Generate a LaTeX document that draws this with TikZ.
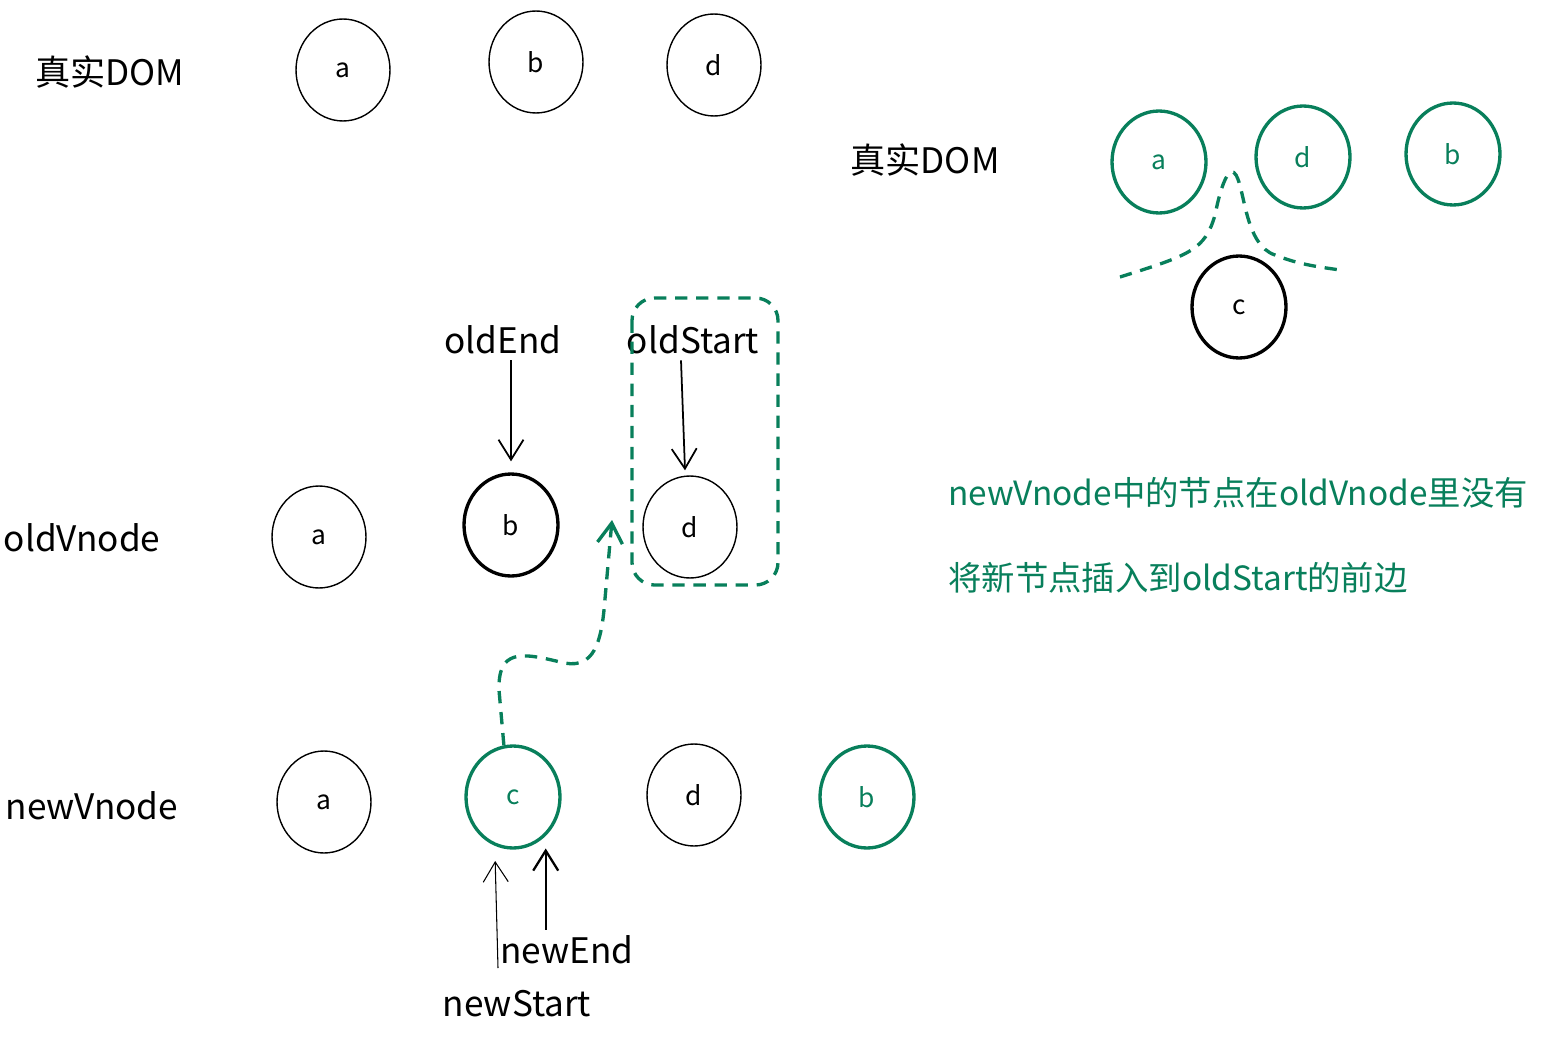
\documentclass[tikz,border=0pt]{standalone}
\usepackage{fontspec}
\setmainfont{Noto Sans CJK SC}
\usepackage{tikz}
\usetikzlibrary{shapes.geometric,arrows.meta}
\definecolor{exgreen}{HTML}{087F5B}

\begin{document}
\begin{tikzpicture}[x=0.02cm,y=-0.02cm,
	vnode/.style={draw,ellipse,inner sep=0pt,minimum width=1.88cm,minimum height=2.04cm,line width=0.8pt,font=\fontsize{15}{18}\selectfont},
	thick vnode/.style={vnode,line width=1.9pt},
	green vnode/.style={thick vnode,draw=exgreen,text=exgreen},
	lbl/.style={font=\fontsize{20}{24}\selectfont},
	note/.style={font=\fontsize{19}{23}\selectfont,text=exgreen,anchor=west,inner sep=0pt},
	ptr/.style={-{Straight Barb[length=4mm,width=5mm]},line width=1pt},
	gdash/.style={draw=exgreen,line width=1.9pt,dash pattern=on 7pt off 5pt}]

\useasboundingbox (0,0) rectangle (1545,1037);

\node[lbl] (domLbl) at (110,72) {真实DOM};
\node[vnode] (domA) at (343,70) {a};
\node[vnode] (domB) at (536,62) {b};
\node[vnode] (domD) at (714,65) {d};

\node[lbl] (resLbl) at (925,160) {真实DOM};
\node[green vnode] (resA) at (1159,162) {a};
\node[green vnode] (resD) at (1303,157) {d};
\node[green vnode] (resB) at (1453,154) {b};
\node[thick vnode] (resC) at (1239,307) {c};
\draw[gdash] (1120,277) .. controls (1190,255) and (1205,250) .. (1215,215)
	.. controls (1222,180) and (1230,165) .. (1236,175)
	.. controls (1245,190) and (1245,245) .. (1275,255)
	.. controls (1300,265) and (1320,267) .. (1340,270);

\node[lbl] (oldLbl) at (82,538) {oldVnode};
\node[vnode] (oldA) at (319,537) {a};
\node[thick vnode] (oldB) at (511,525) {b};
\node[vnode] (oldD) at (690,527) {d};
\node[lbl] (oldEnd) at (503,340) {oldEnd};
\node[lbl] (oldStart) at (693,340) {oldStart};
\draw[ptr] (oldEnd.south -| oldB.north) -- ([yshift=0.22cm]oldB.north);
\draw[ptr] ([xshift=-0.24cm]oldStart.south) -- ([xshift=-0.1cm,yshift=0.1cm]oldD.north);
\draw[gdash,rounded corners=0.45cm] (632,298) rectangle (778,585);

\node[lbl] (newLbl) at (92,806) {newVnode};
\node[vnode] (newA) at (324,802) {a};
\node[green vnode] (newC) at (513,797) {c};
\node[vnode] (newD) at (694,795) {d};
\node[green vnode] (newB) at (867,797) {b};
\node[lbl] (newEnd) at (567,950) {newEnd};
\node[lbl] (newStart) at (517,1004) {newStart};
\coordinate (nsTail) at (498,968);
\draw[ptr,line width=0.6pt] (nsTail) -- ([yshift=-0.3cm]newC.-110);
\draw[ptr,line width=1.3pt] (newEnd.north -| newC.-50) -- ([yshift=-0.25cm]newC.-50);

\coordinate (insertPt) at (612,520);
\draw[gdash,-{Straight Barb[length=4mm,width=5mm]}] (newC.100) -- (499,690)
	.. controls (498,650) and (520,652) .. (560,662)
	.. controls (590,670) and (600,650) .. (604,610) -- (insertPt);

\node[note] (note1) at (948,493) {newVnode中的节点在oldVnode里没有};
\node[note] (note2) at (948,578) {将新节点插入到oldStart的前边};

\end{tikzpicture}
\end{document}
